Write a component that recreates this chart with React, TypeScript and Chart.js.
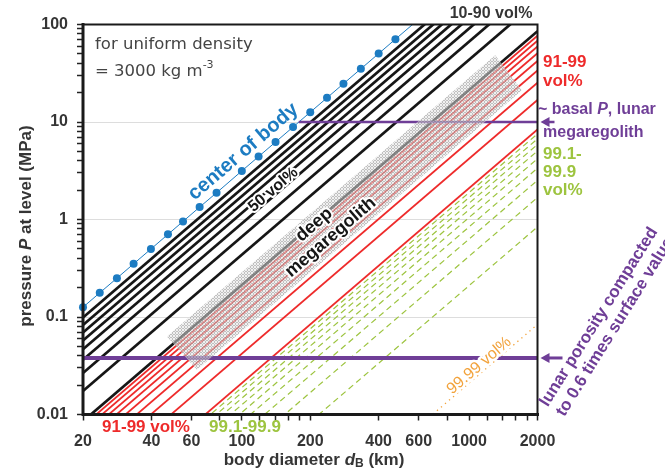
import { useEffect, useRef } from 'react';
import { Chart, registerables } from 'chart.js';

Chart.register(...registerables);

const FONT = "'Liberation Sans', Arial, Helvetica, sans-serif";

// Body diameter axis (km)
const diameterTicks = [20, 40, 60, 80, 100, 120, 140, 160, 180, 200, 400, 600, 800, 1000, 1200, 1400, 1600, 1800, 2000];
const diameterLabels = [20, 40, 60, 100, 200, 400, 600, 1000, 2000];

// Pressure axis (MPa)
const pressureDecades = [0.01, 0.1, 1, 10, 100];
const pressureLabels = ['0.01', '0.1', '1', '10', '100'];
const minorSteps = [2, 3, 4, 5, 6, 7, 8, 9];

// Each level line is a straight line in log-log space, given at these two diameters
const lineDiameters = [20, 2000];

// Pressure at the centre of the body
const centerDiameter = [20, 23.7, 28.2, 33.4, 39.8, 47.3, 55.1, 65.2, 77.4, 100, 118.5, 140.7, 168, 200, 237, 280, 334, 400, 474, 600];
const centerPressure = [0.126, 0.177, 0.25, 0.351, 0.498, 0.704, 0.955, 1.34, 1.88, 3.15, 4.42, 6.23, 8.88, 12.6, 17.7, 24.7, 35.1, 50.3, 70.7, 113];
const centerMarked = [1, 1, 1, 1, 1, 1, 1, 1, 1, 1, 1, 1, 1, 1, 1, 1, 1, 1, 1, 0];

// 10-90 vol% levels
const blackVol = ['10', '20', '30', '40', '50', '60', '70', '80', '90'];
const blackAt20 = [0.0988, 0.0828, 0.0695, 0.0575, 0.0466, 0.0364, 0.0267, 0.0174, 0.00853];
const blackAt2000 = [988, 828, 695, 575, 466, 364, 267, 174, 85.3];

// 91-99 vol% levels
const redVol = ['91', '92', '93', '94', '95', '96', '97', '98', '99'];
const redAt20 = [0.00766, 0.00681, 0.00594, 0.00508, 0.00423, 0.00337, 0.00253, 0.00168, 0.00084];
const redAt2000 = [76.6, 68.1, 59.4, 50.8, 42.3, 33.7, 25.3, 16.8, 8.4];

// 99.1-99.9 vol% levels
const greenVol = ['99.1', '99.2', '99.3', '99.4', '99.5', '99.6', '99.7', '99.8', '99.9'];
const greenAt20 = [0.000756, 0.000672, 0.000588, 0.000504, 0.00042, 0.000336, 0.000252, 0.000168, 0.0000839];
const greenAt2000 = [7.56, 6.72, 5.88, 5.04, 4.2, 3.36, 2.52, 1.68, 0.839];

// 99.99 vol% level
const orangeAt20 = [0.00000839];
const orangeAt2000 = [0.0839];

// Reference pressures (MPa)
const porosityPressure = 0.038;
const basalPressure = 10;
const basalFromDiameter = 178;

// Deep megaregolith band corners (diameter km, pressure MPa)
const bandDiameter = [46.8, 1303, 1708, 63.5];
const bandPressure = [0.0632, 48.4, 21.2, 0.0288];

const C = {
  blue: '#1d7cc2',
  black: '#161616',
  red: '#ee2b2b',
  green: '#9dc43f',
  orange: '#f2a23a',
  purple: '#6f3e97',
  text: '#353535',
};

type Part = { t: string; f: string; dy?: number };

function richWidth(ctx: CanvasRenderingContext2D, parts: Part[]) {
  let w = 0;
  for (const p of parts) {
    ctx.font = p.f;
    w += ctx.measureText(p.t).width;
  }
  return w;
}

function drawRich(ctx: CanvasRenderingContext2D, parts: Part[], x: number, y: number, align: 'left' | 'center', color: string) {
  let cx = align === 'center' ? x - richWidth(ctx, parts) / 2 : x;
  ctx.fillStyle = color;
  ctx.textAlign = 'left';
  for (const p of parts) {
    ctx.font = p.f;
    ctx.fillText(p.t, cx, y + (p.dy || 0));
    cx += ctx.measureText(p.t).width;
  }
}

function rotatedText(
  ctx: CanvasRenderingContext2D,
  text: string,
  cx: number,
  cy: number,
  angle: number,
  font: string,
  color: string,
  halo = 0
) {
  ctx.save();
  ctx.translate(cx, cy);
  ctx.rotate(angle);
  ctx.font = font;
  ctx.textAlign = 'center';
  ctx.textBaseline = 'middle';
  if (halo) {
    ctx.strokeStyle = '#ffffff';
    ctx.lineWidth = halo;
    ctx.lineJoin = 'round';
    ctx.strokeText(text, 0, 0);
  }
  ctx.fillStyle = color;
  ctx.fillText(text, 0, 0);
  ctx.restore();
}

function leftArrow(ctx: CanvasRenderingContext2D, tipX: number, y: number, len: number, width: number) {
  ctx.save();
  ctx.strokeStyle = C.purple;
  ctx.fillStyle = C.purple;
  ctx.lineWidth = width;
  ctx.beginPath();
  ctx.moveTo(tipX + 6, y);
  ctx.lineTo(tipX + len, y);
  ctx.stroke();
  ctx.beginPath();
  ctx.moveTo(tipX, y);
  ctx.lineTo(tipX + 9, y - 5);
  ctx.lineTo(tipX + 9, y + 5);
  ctx.closePath();
  ctx.fill();
  ctx.restore();
}

let patternCache: CanvasPattern | null = null;
function bandPattern(ctx: CanvasRenderingContext2D) {
  if (patternCache) return patternCache;
  const c = document.createElement('canvas');
  c.width = 3;
  c.height = 3;
  const g = c.getContext('2d')!;
  for (let i = 0; i < 3; i++) {
    for (let j = 0; j < 3; j++) {
      const dark = (i === 1 && j !== 1) || (j === 1 && i !== 1);
      g.fillStyle = dark ? 'rgba(165,165,165,0.7)' : 'rgba(228,228,228,0.55)';
      g.fillRect(i, j, 1, 1);
    }
  }
  patternCache = ctx.createPattern(c, 'repeat');
  return patternCache;
}

const annotations = {
  id: 'annotations',
  afterDatasetsDraw(chart: any) {
    const { ctx, scales } = chart;
    const x = scales.x;
    const y = scales.y;
    const px = (d: number) => x.getPixelForValue(d);
    const py = (p: number) => y.getPixelForValue(p);
    const angle = Math.atan2(py(100) - py(1), px(1000) - px(100));

    // deep megaregolith band, laid over the level lines
    ctx.save();
    ctx.beginPath();
    bandDiameter.forEach((d, i) => {
      const X = px(d);
      const Y = py(bandPressure[i]);
      if (i === 0) ctx.moveTo(X, Y);
      else ctx.lineTo(X, Y);
    });
    ctx.closePath();
    ctx.filter = 'blur(0.7px)';
    ctx.fillStyle = bandPattern(ctx);
    ctx.fill();
    ctx.restore();

    const bold = (s: number) => `bold ${s}px ${FONT}`;
    rotatedText(ctx, 'center of body', px(101.5), py(4.95), angle, bold(20), C.blue);
    rotatedText(ctx, '50 vol%', px(137.5), py(2.02), angle, bold(16), C.black, 4);
    rotatedText(ctx, 'deep', px(208), py(0.882), angle, bold(18), C.black, 4);
    rotatedText(ctx, 'megaregolith', px(246), py(0.657), angle, bold(18), C.black, 4);
    rotatedText(ctx, '99.99 vol%', px(1108), py(0.0317), angle, `16px ${FONT}`, C.orange, 5);
  },
  afterDraw(chart: any) {
    const { ctx, chartArea: a, scales } = chart;
    const y = scales.y;
    const bold = (s: number) => `bold ${s}px ${FONT}`;

    // plot frame
    ctx.save();
    ctx.strokeStyle = '#1a1a1a';
    ctx.lineCap = 'square';
    ctx.lineWidth = 2;
    ctx.beginPath();
    ctx.moveTo(a.left, a.top);
    ctx.lineTo(a.right, a.top);
    ctx.lineTo(a.right, a.bottom);
    ctx.stroke();
    ctx.lineWidth = 3;
    ctx.beginPath();
    ctx.moveTo(a.left, a.top);
    ctx.lineTo(a.left, a.bottom);
    ctx.lineTo(a.right, a.bottom);
    ctx.stroke();
    ctx.restore();

    ctx.save();
    ctx.textBaseline = 'middle';

    // density note
    const note = `16.5px 'DejaVu Sans', Verdana, sans-serif`;
    drawRich(ctx, [{ t: 'for uniform density', f: note }], 95, 45, 'left', '#444');
    drawRich(
      ctx,
      [
        { t: '= 3000 kg m', f: note },
        { t: '-3', f: `11px 'DejaVu Sans', Verdana, sans-serif`, dy: -7 },
      ],
      95,
      72,
      'left',
      '#444'
    );

    // axis titles
    drawRich(
      ctx,
      [
        { t: 'body diameter ', f: bold(17) },
        { t: 'd', f: `italic ${bold(17)}` },
        { t: 'B', f: bold(12), dy: 4 },
        { t: ' (km)', f: bold(17) },
      ],
      314,
      460,
      'center',
      C.text
    );
    ctx.save();
    ctx.translate(26, 226);
    ctx.rotate(-Math.PI / 2);
    drawRich(
      ctx,
      [
        { t: 'pressure ', f: bold(17) },
        { t: 'P', f: `italic ${bold(17)}` },
        { t: ' at level (MPa)', f: bold(17) },
      ],
      0,
      0,
      'center',
      C.text
    );
    ctx.restore();

    // series names around the frame
    drawRich(ctx, [{ t: '10-90 vol%', f: bold(16) }], 491, 14, 'center', C.text);
    drawRich(ctx, [{ t: '91-99', f: bold(17) }], 543, 62, 'left', C.red);
    drawRich(ctx, [{ t: 'vol%', f: bold(17) }], 543, 81, 'left', C.red);
    drawRich(
      ctx,
      [
        { t: '~ basal ', f: bold(16) },
        { t: 'P', f: `italic ${bold(16)}` },
        { t: ', lunar', f: bold(16) },
      ],
      538,
      110,
      'left',
      C.purple
    );
    drawRich(ctx, [{ t: 'megaregolith', f: bold(16) }], 543, 133, 'left', C.purple);
    drawRich(ctx, [{ t: '99.1-', f: bold(17) }], 543, 154, 'left', C.green);
    drawRich(ctx, [{ t: '99.9', f: bold(17) }], 543, 172, 'left', C.green);
    drawRich(ctx, [{ t: 'vol%', f: bold(17) }], 543, 190, 'left', C.green);
    drawRich(ctx, [{ t: '91-99 vol%', f: bold(17) }], 146, 427, 'center', C.red);
    drawRich(ctx, [{ t: '99.1-99.9', f: bold(17) }], 245, 427, 'center', C.green);

    // arrows toward the reference pressures
    leftArrow(ctx, a.right + 3, y.getPixelForValue(basalPressure), 14, 2.5);
    leftArrow(ctx, a.right + 3, y.getPixelForValue(porosityPressure), 22, 3);

    // porosity note, two rotated lines
    const rot = (-58 * Math.PI) / 180;
    const cx = 607;
    const cy = 322;
    const nx = Math.cos(rot + Math.PI / 2);
    const ny = Math.sin(rot + Math.PI / 2);
    rotatedText(ctx, 'lunar porosity compacted', cx - nx * 9.5, cy - ny * 9.5, rot, bold(17), C.purple);
    rotatedText(ctx, 'to 0.6 times surface value', cx + nx * 9.5, cy + ny * 9.5, rot, bold(17), C.purple);
    ctx.restore();
  },
};

const pressureTicks: number[] = [];
pressureDecades.forEach((d, i) => {
  pressureTicks.push(d);
  if (i < pressureDecades.length - 1) minorSteps.forEach((m) => pressureTicks.push(Number((d * m).toPrecision(3))));
});

const sameValue = (a: number, b: number) => Math.abs(a / b - 1) < 1e-6;

function levelLines(at20: number[], at2000: number[], names: string[], color: string, width: number, dash: number[]) {
  return at20.map((p, i) => ({
    label: names[i] + ' vol%',
    data: [
      { x: lineDiameters[0], y: p },
      { x: lineDiameters[1], y: at2000[i] },
    ],
    showLine: true,
    borderColor: color,
    borderWidth: width,
    borderDash: dash,
    pointRadius: 0,
  }));
}

export default function App() {
  const ref = useRef<HTMLCanvasElement>(null);

  useEffect(() => {
    if (!ref.current) return;
    const datasets: any[] = [
      {
        label: 'lunar porosity compacted',
        data: [
          { x: lineDiameters[0], y: porosityPressure },
          { x: lineDiameters[1], y: porosityPressure },
        ],
        showLine: true,
        borderColor: C.purple,
        borderWidth: 4,
        pointRadius: 0,
      },
      {
        label: 'basal P',
        data: [
          { x: basalFromDiameter, y: basalPressure },
          { x: lineDiameters[1], y: basalPressure },
        ],
        showLine: true,
        borderColor: C.purple,
        borderWidth: 2.5,
        pointRadius: 0,
      },
      {
        label: 'center of body',
        data: centerDiameter.map((d, i) => ({ x: d, y: centerPressure[i] })),
        showLine: true,
        borderColor: C.blue,
        borderWidth: 1,
        backgroundColor: C.blue,
        pointBackgroundColor: C.blue,
        pointBorderWidth: 0,
        pointRadius: centerMarked.map((m) => (m ? 4 : 0)),
        clip: { left: 6, top: 0, right: 0, bottom: 0 },
      },
      ...levelLines(blackAt20, blackAt2000, blackVol, C.black, 2.7, []),
      ...levelLines(redAt20, redAt2000, redVol, C.red, 1.8, []),
      ...levelLines(orangeAt20, orangeAt2000, ['99.99'], C.orange, 1.3, [1.3, 4]),
      ...levelLines(greenAt20, greenAt2000, greenVol, C.green, 1.2, [6, 4]),
    ];

    const chart = new Chart(ref.current, {
      type: 'scatter',
      data: { datasets },
      plugins: [annotations],
      options: {
        animation: false,
        responsive: false,
        devicePixelRatio: 1,
        layout: { padding: { left: 0, right: 127.5, top: 24.5, bottom: 0 } },
        plugins: { legend: { display: false }, tooltip: { enabled: false } },
        scales: {
          x: {
            type: 'logarithmic',
            min: 20,
            max: 2000,
            border: { display: false },
            grid: { drawOnChartArea: false, tickLength: 6, tickWidth: 1.5, tickColor: '#222' },
            afterBuildTicks: (s: any) => {
              s.ticks = diameterTicks.map((v) => ({ value: v }));
            },
            afterFit: (s: any) => {
              s.height = 61.5;
            },
            ticks: {
              autoSkip: false,
              maxRotation: 0,
              padding: 11,
              color: C.text,
              font: { family: FONT, size: 16, weight: 'bold' },
              callback: (v: any) => (diameterLabels.some((l) => sameValue(l, Number(v))) ? String(v) : ''),
            },
          },
          y: {
            type: 'logarithmic',
            min: 0.01,
            max: 100,
            border: { display: false },
            grid: {
              color: (c: any) =>
                c.tick && pressureDecades.slice(1, -1).some((d) => sameValue(d, c.tick.value)) ? '#dddddd' : 'rgba(0,0,0,0)',
              lineWidth: 1,
              tickLength: 6,
              tickWidth: 1.5,
              tickColor: '#222',
            },
            afterBuildTicks: (s: any) => {
              s.ticks = pressureTicks.map((v) => ({ value: v }));
            },
            afterFit: (s: any) => {
              s.width = 83;
            },
            ticks: {
              autoSkip: false,
              padding: 9,
              color: C.text,
              font: { family: FONT, size: 16, weight: 'bold' },
              callback: (v: any) => {
                const i = pressureDecades.findIndex((d) => sameValue(d, Number(v)));
                return i >= 0 ? pressureLabels[i] : '';
              },
            },
          },
        },
      } as any,
    });
    return () => chart.destroy();
  }, []);

  return (
    <div style={{ position: 'fixed', left: 0, top: 0, width: 665, height: 476, background: '#fff' }}>
      <canvas ref={ref} width={665} height={476} style={{ width: 665, height: 476, display: 'block' }} />
    </div>
  );
}
